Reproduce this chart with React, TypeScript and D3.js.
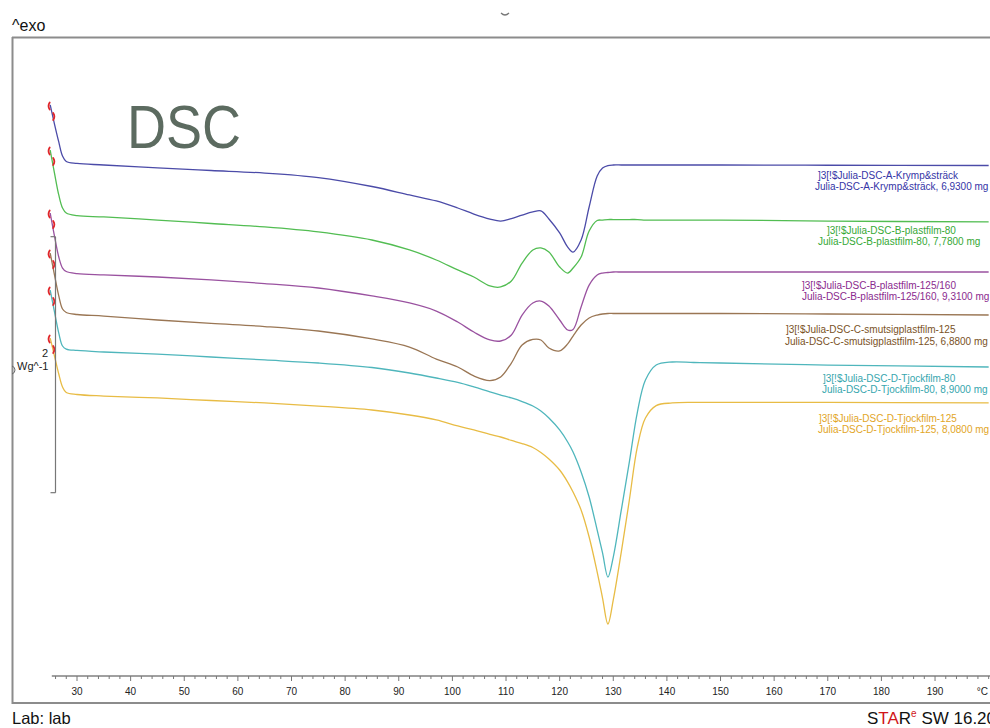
import React from 'react';
import * as d3 from 'd3';

// Temperature grid (°C)
const temperatures = [25, 25.8, 26.6, 27.3, 28, 30, 35, 45, 55, 65, 75, 85, 92, 97, 101, 104, 107, 109, 111, 113, 115, 116.5, 118, 120, 121.5, 122.5, 124, 125.5, 127, 128, 129, 130, 131.5, 133, 134.5, 136, 138, 141, 145, 150, 170, 200];

// Heat flow (W/g, exo up, curves offset as displayed)
const flowA = [-0.531, -0.680, -0.820, -0.930, -0.973, -0.988, -1.000, -1.023, -1.043, -1.063, -1.098, -1.168, -1.234, -1.281, -1.336, -1.383, -1.422, -1.438, -1.418, -1.391, -1.367, -1.359, -1.422, -1.531, -1.641, -1.680, -1.586, -1.328, -1.086, -1.023, -1.004, -1.000, -1.000, -1.000, -1.000, -1.000, -1.000, -1.000, -1.000, -1.000, -1.002, -1.004];
const flowB80 = [-0.883, -1.063, -1.234, -1.336, -1.375, -1.395, -1.406, -1.430, -1.457, -1.484, -1.523, -1.586, -1.664, -1.742, -1.820, -1.875, -1.945, -1.953, -1.906, -1.766, -1.664, -1.648, -1.680, -1.797, -1.844, -1.805, -1.719, -1.516, -1.434, -1.430, -1.426, -1.426, -1.426, -1.426, -1.426, -1.430, -1.430, -1.430, -1.430, -1.430, -1.438, -1.445];
const flowB125 = [-1.375, -1.555, -1.719, -1.805, -1.832, -1.848, -1.859, -1.875, -1.898, -1.926, -1.961, -2.023, -2.078, -2.141, -2.227, -2.305, -2.367, -2.375, -2.328, -2.172, -2.078, -2.063, -2.102, -2.211, -2.289, -2.285, -2.109, -1.938, -1.859, -1.844, -1.840, -1.836, -1.836, -1.836, -1.836, -1.836, -1.836, -1.836, -1.836, -1.836, -1.836, -1.836];
const flowC125 = [-1.688, -1.859, -2.023, -2.125, -2.152, -2.168, -2.180, -2.211, -2.238, -2.262, -2.297, -2.359, -2.422, -2.516, -2.578, -2.648, -2.684, -2.656, -2.547, -2.406, -2.363, -2.367, -2.430, -2.453, -2.398, -2.336, -2.250, -2.195, -2.172, -2.164, -2.160, -2.160, -2.160, -2.160, -2.160, -2.160, -2.160, -2.160, -2.160, -2.160, -2.164, -2.172];
const flowD80 = [-1.977, -2.148, -2.313, -2.414, -2.438, -2.449, -2.461, -2.477, -2.500, -2.523, -2.547, -2.582, -2.625, -2.664, -2.699, -2.734, -2.773, -2.797, -2.820, -2.848, -2.883, -2.922, -2.977, -3.070, -3.164, -3.242, -3.398, -3.594, -3.852, -4.031, -4.219, -4.063, -3.695, -3.320, -2.930, -2.680, -2.563, -2.539, -2.543, -2.547, -2.563, -2.578];
const flowD125 = [-2.352, -2.492, -2.633, -2.734, -2.777, -2.793, -2.805, -2.820, -2.840, -2.859, -2.883, -2.914, -2.953, -2.992, -3.039, -3.070, -3.105, -3.125, -3.152, -3.176, -3.207, -3.246, -3.297, -3.383, -3.477, -3.555, -3.695, -3.906, -4.180, -4.383, -4.586, -4.398, -4.023, -3.617, -3.201, -2.977, -2.880, -2.859, -2.855, -2.855, -2.855, -2.859];

const seriesNames = ['Julia-DSC-A-Krymp&sträck', 'Julia-DSC-B-plastfilm-80', 'Julia-DSC-B-plastfilm-125/160', 'Julia-DSC-C-smutsigplastfilm-125', 'Julia-DSC-D-Tjockfilm-80', 'Julia-DSC-D-Tjockfilm-125'];
const sampleMasses = ['6,9300', '7,7800', '9,3100', '6,8800', '8,9000', '8,0800'];
const seriesFlows = [flowA, flowB80, flowB125, flowC125, flowD80, flowD125];

const majorTicks = [30, 40, 50, 60, 70, 80, 90, 100, 110, 120, 130, 140, 150, 160, 170, 180, 190];
const minorStep = 2;
const scaleBarTop = -1.56;
const scaleBarSpan = 2;

// styling / layout
const lineColors = ['#4b4ba8', '#52bd52', '#9a52a0', '#9a7654', '#4fb6bc', '#e8bc45'];
const textColors = ['#3434a6', '#35a835', '#8a2a8e', '#7a5226', '#36a6ae', '#e2a526'];
const labelLayout = [
  { x1: 818, x2: 815, b1: 178.5, b2: 189.5 },
  { x1: 827, x2: 818, b1: 233.5, b2: 245 },
  { x1: 802, x2: 802, b1: 288.5, b2: 299.5 },
  { x1: 786, x2: 785, b1: 333, b2: 344.5 },
  { x1: 823, x2: 822, b1: 382, b2: 392.5 },
  { x1: 819, x2: 818, b1: 421.5, b2: 433 },
];

const FONT = '"Liberation Sans", Arial, sans-serif';

export default function App() {
  const W = 990, H = 728;
  const x = d3.scaleLinear().domain([25.3, 200.25]).range([51.8, 990]);
  const y = d3.scaleLinear().domain([0, -5.2]).range([37, 702.6]);
  const axisY = 676;
  const minor = d3.range(26, 201, minorStep).filter(t => !majorTicks.includes(t));

  const line = (vals: number[]) =>
    d3.line<number>()
      .x((_, i) => x(temperatures[i]))
      .y(d => y(d))
      .curve(d3.curveCatmullRom.alpha(0.5))(vals) || '';

  const frame = '#8c8c8c';
  const barX = 55.5;

  return (
    <svg width={W} height={H} style={{ position: 'absolute', left: 0, top: 0, background: '#fff' }} fontFamily={FONT}>
      <rect x={0} y={0} width={W} height={H} fill="#fff" />
      {/* small artefacts */}
      <path d="M501,13 Q505,17 509,13" stroke="#777" strokeWidth={1.2} fill="none" />
      <text x={12} y={31} fontSize={16} fill="#111">^exo</text>

      {/* frame */}
      <line x1={12} y1={37.5} x2={990} y2={37.5} stroke={frame} strokeWidth={2} />
      <line x1={12.5} y1={37} x2={12.5} y2={704} stroke={frame} strokeWidth={2} />
      <line x1={12} y1={703} x2={990} y2={703} stroke={frame} strokeWidth={2} />
      <path d="M12,366 Q15,367 15,370 Q15,373 12,374" stroke="#666" strokeWidth={1} fill="none" />

      {/* title */}
      <text x={127} y={148} fontSize={62} fill="#5c6b60" textLength={114} lengthAdjust="spacingAndGlyphs">DSC</text>

      {/* curves */}
      {seriesFlows.map((vals, i) => (
        <path key={i} d={line(vals)} fill="none" stroke={lineColors[i]} strokeWidth={1.3} />
      ))}

      {/* start markers */}
      {seriesFlows.map((vals, i) => {
        const cx = x(temperatures[0]);
        const cy = y(vals[0]);
        return (
          <g key={'m' + i} stroke="#e0262a" strokeWidth={1.8} fill="none" strokeLinecap="round">
            <path d={`M${cx - 0.5},${cy - 2.5} Q${cx - 2.8},${cy + 1} ${cx - 0.5},${cy + 4.5}`} />
            <path d={`M${cx + 3},${cy + 8} Q${cx + 5.3},${cy + 11.5} ${cx + 3},${cy + 15}`} />
          </g>
        );
      })}

      {/* scale bar */}
      <g stroke="#777" strokeWidth={1.2} fill="none">
        <line x1={barX} y1={y(scaleBarTop)} x2={barX} y2={y(scaleBarTop - scaleBarSpan)} />
        <line x1={50.5} y1={y(scaleBarTop)} x2={barX} y2={y(scaleBarTop)} />
        <line x1={50.5} y1={y(scaleBarTop - scaleBarSpan)} x2={barX} y2={y(scaleBarTop - scaleBarSpan)} />
      </g>
      <text x={45} y={357} fontSize={11} textAnchor="middle" fill="#222">{scaleBarSpan}</text>
      <text x={17} y={370} fontSize={11} fill="#222">Wg^-1</text>

      {/* legend labels */}
      {seriesNames.map((name, i) => (
        <g key={'l' + i} fontSize={10} fill={textColors[i]}>
          <text x={labelLayout[i].x1} y={labelLayout[i].b1}>{`]3[!$${name}`}</text>
          <text x={labelLayout[i].x2} y={labelLayout[i].b2}>{`${name}, ${sampleMasses[i]} mg`}</text>
        </g>
      ))}

      {/* x axis */}
      <line x1={x(25.3)} y1={axisY} x2={990} y2={axisY} stroke="#808080" strokeWidth={1.5} />
      {minor.map(t => (
        <line key={'n' + t} x1={x(t)} y1={axisY} x2={x(t)} y2={axisY + 3} stroke="#777" strokeWidth={1} />
      ))}
      {majorTicks.map(t => (
        <g key={'t' + t}>
          <line x1={x(t)} y1={axisY} x2={x(t)} y2={axisY + 5} stroke="#777" strokeWidth={1} />
          <text x={x(t)} y={695} fontSize={10} textAnchor="middle" fill="#222">{t}</text>
        </g>
      ))}
      <text x={988} y={695} fontSize={10} textAnchor="end" fill="#222">°C</text>

      {/* footer */}
      <text x={12} y={724} fontSize={16.5} fill="#111">Lab: lab</text>
      <text x={867} y={724} fontSize={17} fill="#111">
        <tspan>S</tspan>
        <tspan fill="#d0161a">TA</tspan>
        <tspan>R</tspan>
        <tspan fill="#d0161a" fontSize={10} dy={-7}>e</tspan>
        <tspan dy={7}> SW 16.20</tspan>
      </text>
    </svg>
  );
}
